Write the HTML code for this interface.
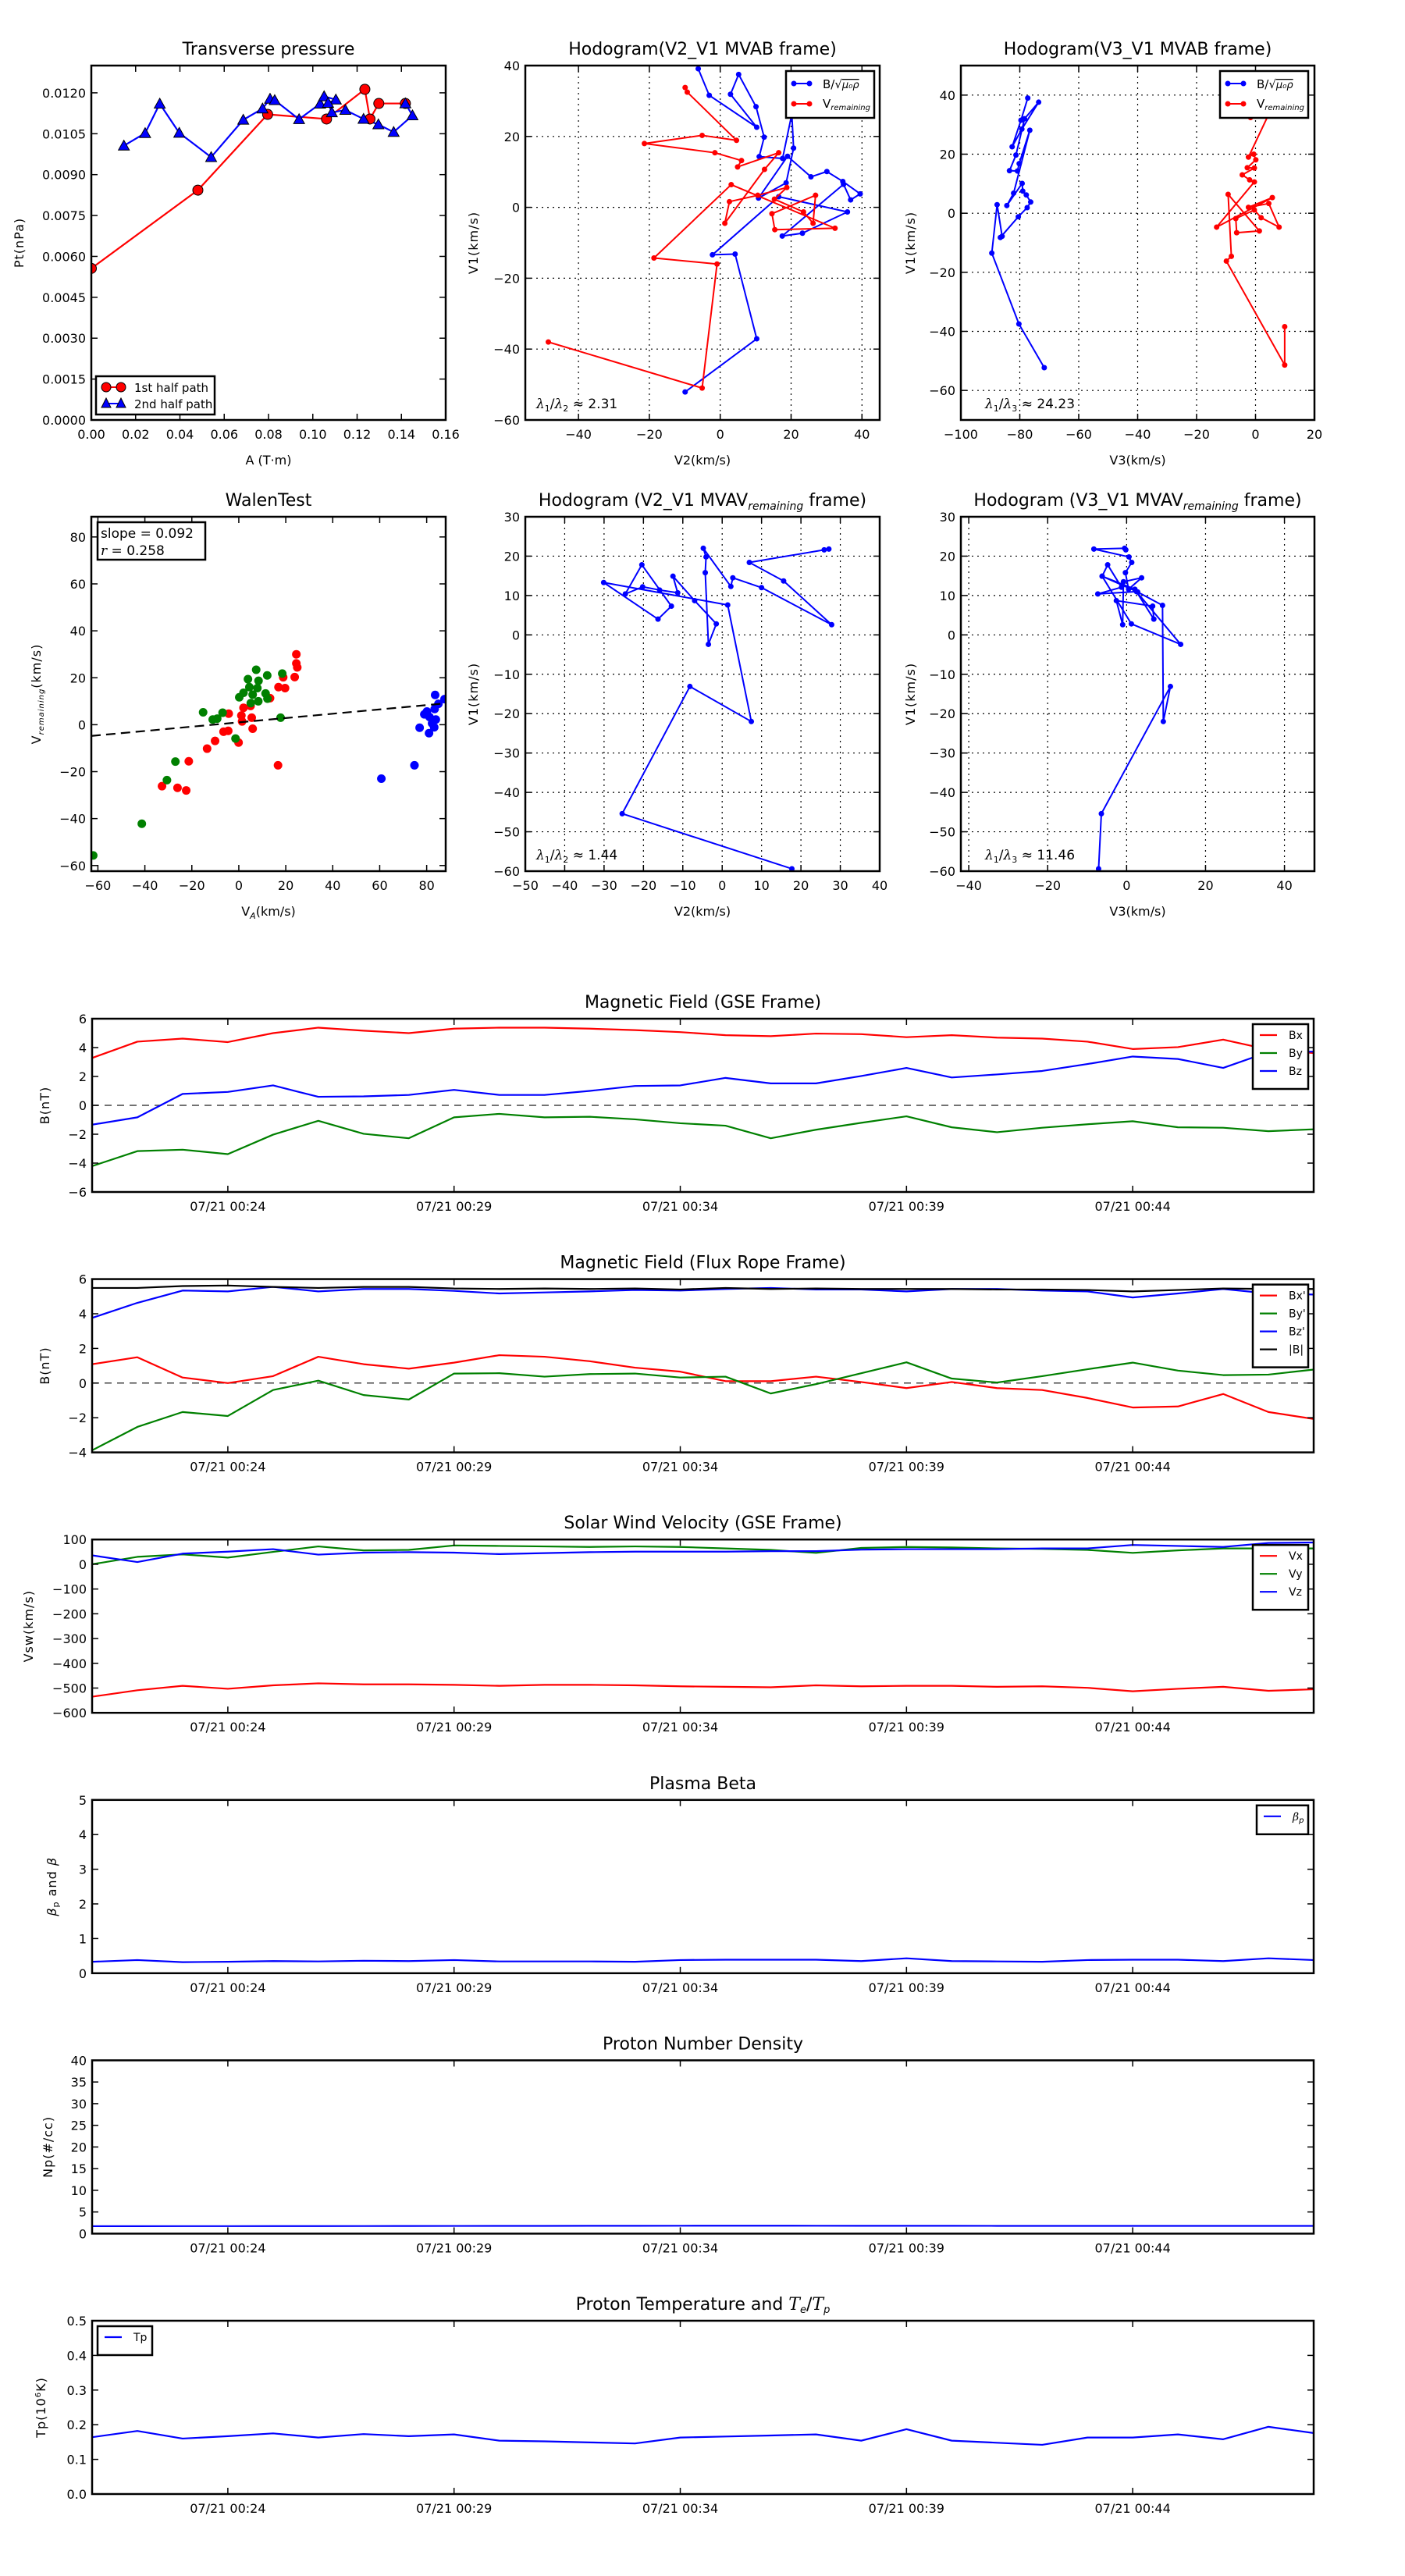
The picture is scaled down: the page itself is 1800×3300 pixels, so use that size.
<!DOCTYPE html>
<html><head><meta charset="utf-8"><title>Flux rope analysis</title>
<style>
html,body{margin:0;padding:0;background:#fff;}
svg{display:block;font-family:"DejaVu Sans","Liberation Sans",sans-serif;}
</style></head>
<body>
<svg id="fig" xmlns="http://www.w3.org/2000/svg" width="1800" height="3300" viewBox="0 0 1800 3300">
<rect x="0" y="0" width="1800" height="3300" fill="#fff"/>
</svg>
<script>
// ---------- Data ----------
const ptRedA=[0,0.0481,0.0796,0.1062,0.1235,0.1258,0.1298,0.1418];
const ptRedP=[0.00556,0.00843,0.01121,0.01104,0.01213,0.01104,0.01161,0.01161];
const ptBlueA=[0.0147,0.0243,0.0309,0.0397,0.0541,0.0686,0.0773,0.0807,0.0828,0.0938,0.1033,0.1051,0.1104,0.1069,0.1086,0.1147,0.1229,0.1296,0.1365,0.145,0.1418];
const ptBlueP=[0.01006,0.01052,0.0116,0.01053,0.00964,0.01101,0.01142,0.01178,0.01173,0.01103,0.0116,0.01187,0.01175,0.01163,0.01128,0.01137,0.01104,0.01084,0.01056,0.01117,0.01161];

const h1BlueX=[-6.2,-3.1,10.3,2.9,5.2,10.1,12.4,11.0,17.6,20.2,20.7,18.6,10.8,19.0,25.6,30.1,34.6,39.5,36.8,34.8,17.5,23.2,35.9,16.5,-2.2,4.2,10.3,-9.9];
const h1BlueY=[39.1,31.6,22.6,31.9,37.5,28.4,19.8,14.3,13.8,26.3,16.7,6.9,2.6,14.4,8.6,10.1,7.3,3.8,2.1,6.5,-8.1,-7.3,-1.3,3.0,-13.4,-13.2,-37.1,-52.1];
const h1RedX=[-48.5,-5.1,-0.9,-18.7,3.1,32.4,15.4,14.6,26.9,26.2,23.5,15.3,18.8,10.6,2.6,1.3,12.5,16.5,4.9,6.0,-1.5,-21.4,-5.1,4.6,-9.3,-9.9];
const h1RedY=[-38.0,-51.0,-16.0,-14.3,6.4,-5.9,-6.3,-1.8,3.4,-4.5,-1.3,2.3,5.6,3.4,1.6,-4.5,10.7,15.4,11.4,13.2,15.4,18.0,20.3,18.9,32.5,33.8];

const h2BlueX=[-77.3,-79.6,-82.6,-79.3,-73.6,-78.4,-81.3,-83.5,-80.8,-80.2,-76.6,-82.1,-84.4,-79.2,-79.0,-77.8,-76.3,-77.5,-80.5,-86.6,-86.0,-87.7,-89.5,-80.3,-71.7];
const h2BlueY=[39.0,31.5,22.5,28.5,37.6,32.0,19.7,14.4,14.3,16.8,28.1,6.8,2.6,10.1,7.5,6.2,3.8,1.9,-1.2,-8.2,-7.8,2.9,-13.5,-37.5,-52.3];
const h2RedX=[-1.7,8.5,-2.4,-0.6,0.1,-2.8,-0.4,-4.5,-2.0,-0.4,-13.2,5.7,-2.4,4.5,8.0,1.9,-0.4,-6.7,-6.4,1.3,-9.3,-8.2,-9.9,9.9,9.9];
const h2RedY=[32.4,42.0,19.0,20.0,18.1,15.4,15.3,13.0,11.3,10.6,-4.7,5.3,2.0,3.3,-4.7,-1.5,1.1,-1.8,-6.6,-6.0,6.4,-14.6,-16.2,-51.4,-38.4];

const walenRedX=[24.5,24.5,24.9,23.8,18.9,16.9,19.7,13.3,-4.3,2.0,5.0,1.1,1.4,5.5,5.9,-6.5,-4.5,-0.1,-10.1,-13.5,-21.3,16.7,-32.7,-26.1,-22.4];
const walenRedY=[30.0,26.1,24.4,20.3,20.2,16.0,15.6,11.3,4.7,7.2,8.0,3.9,1.4,3.0,-1.7,-3.0,-2.6,-7.6,-6.9,-10.2,-15.6,-17.3,-26.2,-26.9,-28.0];
const walenGreenX=[7.4,12.1,18.5,3.9,8.4,4.5,7.9,2.0,0.2,5.9,11.4,12.2,8.3,5.1,-15.2,-6.9,-11.1,-9.2,17.8,-1.4,-27.0,-30.6,-41.3,-62.0];
const walenGreenY=[23.4,21.0,21.8,19.4,18.7,16.0,15.6,13.6,11.7,12.8,13.3,11.1,10.0,9.2,5.3,5.1,2.2,2.6,3.0,-5.9,-15.7,-23.6,-42.2,-55.7];
const walenBlueX=[83.6,87.6,85.0,83.4,79.0,81.2,83.9,82.3,77.0,81.0,83.2,80.1,74.8,60.7];
const walenBlueY=[12.7,10.9,8.9,6.7,4.4,3.3,2.2,0.6,-1.3,-3.6,-1.1,5.6,-17.3,-23.0];
const walenSlope=0.092, walenIntercept=1.0;

const h3X=[17.7,-25.4,-8.2,7.4,1.4,-30.1,-16.3,-12.9,-20.4,-24.6,-20.2,-15.9,-11.3,-12.5,-7.0,-1.5,-3.5,-4.3,-4.1,-4.8,2.2,2.7,10.0,27.8,15.6,6.9,25.9,27.1];
const h3Y=[-59.4,-45.4,-13.1,-22.0,7.6,13.3,4.0,7.3,17.8,10.4,12.2,11.4,10.7,14.9,8.7,2.8,-2.4,15.8,19.8,22.0,12.3,14.5,12.0,2.6,13.7,18.4,21.6,21.8];
const h4X=[-7.1,-6.4,11.1,9.3,9.1,2.8,-6.2,1.2,13.7,2.5,-7.3,-1.3,-4.8,-6.2,2.1,6.9,6.6,-2.6,-1.0,-0.8,3.8,0.5,-0.3,1.3,0.6,-8.3,-0.5,-0.2];
const h4Y=[-59.4,-45.4,-13.1,-22.0,7.5,10.9,14.9,2.8,-2.4,11.0,10.4,12.1,17.8,14.9,11.6,4.0,7.3,8.7,2.6,13.5,14.5,11.6,15.8,18.4,19.8,21.8,22.0,21.6];

const tsTickIdx=[3,8,13,18,23];
const tsTickLabels=["07/21 00:24","07/21 00:29","07/21 00:34","07/21 00:39","07/21 00:44"];
const gseBx=[3.28,4.41,4.62,4.38,5.0,5.38,5.17,5.0,5.31,5.38,5.38,5.31,5.21,5.07,4.86,4.79,4.97,4.93,4.72,4.86,4.69,4.62,4.41,3.9,4.03,4.55,3.86,3.62];
const gseBy=[-4.21,-3.17,-3.07,-3.38,-2.03,-1.07,-1.97,-2.28,-0.83,-0.59,-0.83,-0.79,-0.97,-1.24,-1.41,-2.28,-1.69,-1.21,-0.76,-1.52,-1.86,-1.55,-1.31,-1.10,-1.52,-1.55,-1.79,-1.66];
const gseBz=[-1.34,-0.83,0.79,0.93,1.38,0.59,0.62,0.72,1.07,0.72,0.72,1.0,1.34,1.38,1.9,1.52,1.52,2.03,2.59,1.93,2.14,2.38,2.86,3.38,3.21,2.59,3.69,3.72];
const frBx=[1.09,1.49,0.32,0,0.4,1.52,1.09,0.83,1.18,1.61,1.52,1.26,0.89,0.66,0.11,0.11,0.37,0.06,-0.29,0.06,-0.29,-0.4,-0.86,-1.41,-1.35,-0.63,-1.67,-2.07];
const frBy=[-3.88,-2.53,-1.67,-1.9,-0.4,0.14,-0.69,-0.95,0.55,0.57,0.37,0.52,0.55,0.32,0.37,-0.6,-0.06,0.57,1.2,0.26,0.03,0.4,0.8,1.18,0.72,0.46,0.49,0.78];
const frBz=[3.76,4.63,5.34,5.29,5.55,5.29,5.43,5.43,5.32,5.17,5.23,5.29,5.37,5.34,5.43,5.49,5.4,5.4,5.29,5.43,5.43,5.34,5.29,4.94,5.17,5.43,5.17,5.11];
const frBt=[5.49,5.49,5.6,5.63,5.55,5.49,5.55,5.55,5.46,5.43,5.46,5.43,5.46,5.4,5.49,5.43,5.46,5.43,5.43,5.43,5.4,5.4,5.37,5.29,5.37,5.46,5.43,5.43];
const vx=[-535,-509,-491,-503,-489,-481,-485,-485,-487,-491,-487,-487,-489,-493,-495,-497,-489,-493,-491,-491,-495,-493,-499,-513,-503,-495,-511,-505];
const vy=[0,30,40,27,50,72,56,58,76,74,72,70,72,70,64,58,46,66,70,68,64,62,58,46,56,64,64,64];
const vz=[36,9,43,51,61,39,47,49,47,41,45,49,51,51,51,53,53,59,61,61,61,64,64,78,74,70,86,88];
const betaP=[0.33,0.38,0.32,0.33,0.35,0.34,0.36,0.35,0.38,0.34,0.34,0.34,0.33,0.38,0.39,0.39,0.39,0.35,0.43,0.35,0.34,0.33,0.38,0.39,0.39,0.35,0.43,0.38];
const np=[1.72,1.72,1.73,1.73,1.74,1.74,1.75,1.76,1.77,1.78,1.79,1.80,1.81,1.82,1.83,1.83,1.82,1.81,1.80,1.80,1.79,1.79,1.78,1.78,1.78,1.78,1.78,1.78];
const tp=[0.164,0.182,0.160,0.167,0.175,0.163,0.173,0.167,0.172,0.154,0.152,0.149,0.146,0.163,0.166,0.169,0.172,0.154,0.187,0.154,0.148,0.142,0.163,0.163,0.172,0.158,0.194,0.176];

// ---------- helpers ----------
const NS="http://www.w3.org/2000/svg";
const svg=document.getElementById('fig');
let clipN=0;
function mk(tag,attrs,parent){const e=document.createElementNS(NS,tag);for(const k in attrs)e.setAttribute(k,attrs[k]);(parent||svg).appendChild(e);return e;}
function fmtMinus(s){return String(s).replace('-','\u2212');}
function addText(parent,x,y,str,size,anchor){const t=mk('text',{x:x,y:y,'font-size':size,'text-anchor':anchor||'middle',fill:'#000'},parent);t.textContent=str;return t;}

function makeAxes(name,box,xr,yr){
  const g=mk('g',{});
  
  
  const id='clip'+(clipN++);
  const cp=mk('clipPath',{id:id},g);
  mk('rect',{x:box.x,y:box.y,width:box.w,height:box.h},cp);
  const sx=v=>box.x+(v-xr[0])/(xr[1]-xr[0])*box.w;
  const sy=v=>box.y+box.h-(v-yr[0])/(yr[1]-yr[0])*box.h;
  const plot=mk('g',{'clip-path':'url(#'+id+')'},g);
  return {g,plot,sx,sy,box};
}
function grid(ax,xt,yt){
  const gg=mk('g',{},ax.plot);
  
  
  xt.forEach(v=>mk('line',{x1:ax.sx(v),x2:ax.sx(v),y1:ax.box.y,y2:ax.box.y+ax.box.h,stroke:'#000','stroke-width':1.2,'stroke-dasharray':'2,5'},gg));
  yt.forEach(v=>mk('line',{y1:ax.sy(v),y2:ax.sy(v),x1:ax.box.x,x2:ax.box.x+ax.box.w,stroke:'#000','stroke-width':1.2,'stroke-dasharray':'2,5'},gg));
}
function frameTicks(ax,xt,xl,yt,yl){
  const b=ax.box,L=8;
  const tg=mk('g',{},ax.g);
  
  
  xt.forEach((v,i)=>{const x=ax.sx(v);
    mk('line',{x1:x,x2:x,y1:b.y+b.h,y2:b.y+b.h-L,stroke:'#000','stroke-width':1.5},tg);
    mk('line',{x1:x,x2:x,y1:b.y,y2:b.y+L,stroke:'#000','stroke-width':1.5},tg);
    const t=addText(tg,x,b.y+b.h+24,xl[i],16,'middle');
    
    
  });
  yt.forEach((v,i)=>{const y=ax.sy(v);
    mk('line',{y1:y,y2:y,x1:b.x,x2:b.x+L,stroke:'#000','stroke-width':1.5},tg);
    mk('line',{y1:y,y2:y,x1:b.x+b.w,x2:b.x+b.w-L,stroke:'#000','stroke-width':1.5},tg);
    const t=addText(tg,b.x-7,y+6,yl[i],16,'end');
    
    
  });
  const fr=mk('rect',{x:b.x,y:b.y,width:b.w,height:b.h,fill:'none',stroke:'#000','stroke-width':2.5},ax.g);
  
  
}
function polyline(ax,xs,ys,color,w,name){
  const pts=xs.map((x,i)=>ax.sx(x)+','+ax.sy(ys[i])).join(' ');
  const p=mk('polyline',{points:pts,fill:'none',stroke:color,'stroke-width':w||2.2,'stroke-linejoin':'round'},ax.plot);
  
  
  return p;
}
function dots(ax,xs,ys,color,r,name,edge){
  const gg=mk('g',{},ax.plot);
  
  
  xs.forEach((x,i)=>{mk('circle',{cx:ax.sx(x),cy:ax.sy(ys[i]),r:r,fill:color,stroke:edge||'none','stroke-width':1},gg);});
}
function tris(ax,xs,ys,color,s,name){
  const gg=mk('g',{},ax.plot);
  
  
  xs.forEach((x,i)=>{const cx=ax.sx(x),cy=ax.sy(ys[i]);
    mk('polygon',{points:`${cx},${cy-s} ${cx-s},${cy+s*0.8} ${cx+s},${cy+s*0.8}`,fill:color,stroke:'#000','stroke-width':1},gg);});
}
function range(a,b,s){const r=[];for(let v=a;v<=b+1e-9;v+=s)r.push(Math.round(v*1e6)/1e6);return r;}
function title(ax,html,name){
  const t=mk('text',{x:ax.box.x+ax.box.w/2,y:ax.box.y-14,'font-size':22,'text-anchor':'middle'},ax.g);
  t.innerHTML=html;
  
  
}
function xlabel(ax,html){
  const t=mk('text',{x:ax.box.x+ax.box.w/2,y:ax.box.y+ax.box.h+57,'font-size':16,'text-anchor':'middle'},ax.g);
  t.innerHTML=html;
  
  
}
function ylabel(ax,html,x){
  const cy=ax.box.y+ax.box.h/2;
  const t=mk('text',{x:x,y:cy,'font-size':16,'text-anchor':'middle',transform:`rotate(-90 ${x} ${cy})`,'letter-spacing':'1'},ax.g);
  t.innerHTML=html;
  
  
}
function legendBox(ax,x,y,w,h,name){
  const lg=mk('g',{},ax.g);
  
  
  mk('rect',{x:x,y:y,width:w,height:h,fill:'#fff',stroke:'#000','stroke-width':2.5},lg);
  return lg;
}

// ---------- Row 1 ----------
const rowY1=84, rowY2=662, AH=454;
{
const ax=makeAxes('transverse-pressure-chart',{x:117,y:rowY1,w:454,h:AH},[0,0.16],[0,0.013]);
const xt=range(0,0.16,0.02), yt=range(0,0.012,0.0015);
polyline(ax,ptRedA,ptRedP,'#f00',2.2,'first-half-path-line');
polyline(ax,ptBlueA,ptBlueP,'#00f',2.2,'second-half-path-line');
dots(ax,ptRedA,ptRedP,'#f00',6.5,'first-half-markers','#000');
tris(ax,ptBlueA,ptBlueP,'#00f',7,'second-half-markers');
frameTicks(ax,xt,xt.map(v=>v.toFixed(2)),yt,yt.map(v=>v.toFixed(4)));
title(ax,'Transverse pressure','chart-title');
xlabel(ax,'A (T·m)');
ylabel(ax,'Pt(nPa)',30);
const lg=legendBox(ax,123,482,152,49,'legend');
mk('line',{x1:136,x2:155,y1:496,y2:496,stroke:'#f00','stroke-width':2},lg);
mk('circle',{cx:136,cy:496,r:6,fill:'#f00',stroke:'#000'},lg);mk('circle',{cx:155,cy:496,r:6,fill:'#f00',stroke:'#000'},lg);
addText(lg,172,502,'1st half path',15,'start');
mk('line',{x1:136,x2:155,y1:517,y2:517,stroke:'#00f','stroke-width':2},lg);
mk('polygon',{points:'136,510 130,522 142,522',fill:'#00f',stroke:'#000'},lg);
mk('polygon',{points:'155,510 149,522 161,522',fill:'#00f',stroke:'#000'},lg);
addText(lg,172,523,'2nd half path',15,'start');
}
function hodoLegend(ax,x,y){
  const lg=legendBox(ax,x,y,113,60,'legend');
  mk('line',{x1:x+10,x2:x+30,y1:y+16,y2:y+16,stroke:'#00f','stroke-width':2},lg);
  mk('circle',{cx:x+10,cy:y+16,r:3.5,fill:'#00f'},lg);mk('circle',{cx:x+30,cy:y+16,r:3.5,fill:'#00f'},lg);
  const t1=mk('text',{x:x+47,y:y+22,'font-size':15},lg);t1.innerHTML='B/√<tspan font-style="italic" font-size="13" text-decoration="overline">μ₀ρ</tspan>';
  mk('line',{x1:x+10,x2:x+30,y1:y+42,y2:y+42,stroke:'#f00','stroke-width':2},lg);
  mk('circle',{cx:x+10,cy:y+42,r:3.5,fill:'#f00'},lg);mk('circle',{cx:x+30,cy:y+42,r:3.5,fill:'#f00'},lg);
  const t2=mk('text',{x:x+47,y:y+47,'font-size':15},lg);t2.innerHTML='V<tspan font-size="10" font-style="italic" dy="3">remaining</tspan>';
}
function lam(ax,x,y,a,b,val){
  const t=mk('text',{x:x,y:y,'font-size':17},ax.g);
  t.innerHTML=`<tspan font-style="italic" font-family="DejaVu Serif">λ</tspan><tspan font-size="11" dy="4">${a}</tspan><tspan dy="-4">/</tspan><tspan font-style="italic" font-family="DejaVu Serif">λ</tspan><tspan font-size="11" dy="4">${b}</tspan><tspan dy="-4"> ≈ ${val}</tspan>`;
  
  
}
{
const ax=makeAxes('hodogram-v2-v1-mvab',{x:673,y:rowY1,w:454,h:AH},[-55,45],[-60,40]);
const xt=range(-40,40,20), yt=range(-60,40,20);
grid(ax,xt,yt);
polyline(ax,h1BlueX,h1BlueY,'#00f',2,'b-alfven-line');dots(ax,h1BlueX,h1BlueY,'#00f',3.5,'b-alfven-points');
polyline(ax,h1RedX,h1RedY,'#f00',2,'v-remaining-line');dots(ax,h1RedX,h1RedY,'#f00',3.5,'v-remaining-points');
frameTicks(ax,xt,xt.map(fmtMinus),yt,yt.map(fmtMinus));
title(ax,'Hodogram(V2_V1 MVAB frame)','chart-title');
xlabel(ax,'V2(km/s)');ylabel(ax,'V1(km/s)',612);
hodoLegend(ax,1007,91);lam(ax,687,523,1,2,'2.31');
}
{
const ax=makeAxes('hodogram-v3-v1-mvab',{x:1231,y:rowY1,w:453,h:AH},[-100,20],[-70,50]);
const xt=range(-100,20,20), yt=range(-60,40,20);
grid(ax,xt.slice(1,-1),yt);
polyline(ax,h2BlueX,h2BlueY,'#00f',2,'b-alfven-line');dots(ax,h2BlueX,h2BlueY,'#00f',3.5,'b-alfven-points');
polyline(ax,h2RedX,h2RedY,'#f00',2,'v-remaining-line');dots(ax,h2RedX,h2RedY,'#f00',3.5,'v-remaining-points');
frameTicks(ax,xt,xt.map(fmtMinus),yt,yt.map(fmtMinus));
title(ax,'Hodogram(V3_V1 MVAB frame)','chart-title');
xlabel(ax,'V3(km/s)');ylabel(ax,'V1(km/s)',1172);
hodoLegend(ax,1563,91);lam(ax,1262,523,1,3,'24.23');
}
// ---------- Row 2 ----------
{
const ax=makeAxes('walen-test-chart',{x:117,y:rowY2,w:454,h:AH},[-62.8,88.1],[-62.4,88.6]);
const xt=range(-60,80,20), yt=range(-60,80,20);
dots(ax,walenRedX,walenRedY,'#f00',5.5,'first-group-points');
dots(ax,walenGreenX,walenGreenY,'#008000',5.5,'second-group-points');
dots(ax,walenBlueX,walenBlueY,'#00f',5.5,'third-group-points');
const fx=[-62.8,88.1];
const fl=mk('line',{x1:ax.sx(fx[0]),y1:ax.sy(walenIntercept+walenSlope*fx[0]),x2:ax.sx(fx[1]),y2:ax.sy(walenIntercept+walenSlope*fx[1]),stroke:'#000','stroke-width':2.2,'stroke-dasharray':'12,7'},ax.plot);


frameTicks(ax,xt,xt.map(fmtMinus),yt,yt.map(fmtMinus));
title(ax,'WalenTest','chart-title');
xlabel(ax,'V<tspan font-size="11" font-style="italic" dy="4">A</tspan><tspan dy="-4">(km/s)</tspan>');
ylabel(ax,'V<tspan font-size="10" font-style="italic" dy="4">remaining</tspan><tspan dy="-4">(km/s)</tspan>',52);
const lg=legendBox(ax,125,669,138,48,'fit-stats-box');
addText(lg,129,689,'slope = 0.092',17,'start');
const rt=mk('text',{x:129,y:711,'font-size':17},lg);rt.innerHTML='<tspan font-style="italic" font-family="DejaVu Serif">r</tspan> = 0.258';
}
{
const ax=makeAxes('hodogram-v2-v1-mvav',{x:673,y:rowY2,w:454,h:AH},[-50,40],[-60,30]);
const xt=range(-50,40,10), yt=range(-60,30,10);
grid(ax,xt.slice(1,-1),yt.slice(1,-1));
polyline(ax,h3X,h3Y,'#00f',2,'hodogram-line');dots(ax,h3X,h3Y,'#00f',3.5,'hodogram-points');
frameTicks(ax,xt,xt.map(fmtMinus),yt,yt.map(fmtMinus));
title(ax,'Hodogram (V2_V1 MVAV<tspan font-size="14" font-style="italic" dy="5">remaining</tspan><tspan dy="-5"> frame)</tspan>','chart-title');
xlabel(ax,'V2(km/s)');ylabel(ax,'V1(km/s)',612);
lam(ax,687,1101,1,2,'1.44');
}
{
const ax=makeAxes('hodogram-v3-v1-mvav',{x:1231,y:rowY2,w:453,h:AH},[-42,47.6],[-60,30]);
const xt=range(-40,40,20), yt=range(-60,30,10);
grid(ax,xt,yt.slice(1,-1));
polyline(ax,h4X,h4Y,'#00f',2,'hodogram-line');dots(ax,h4X,h4Y,'#00f',3.5,'hodogram-points');
frameTicks(ax,xt,xt.map(fmtMinus),yt,yt.map(fmtMinus));
title(ax,'Hodogram (V3_V1 MVAV<tspan font-size="14" font-style="italic" dy="5">remaining</tspan><tspan dy="-5"> frame)</tspan>','chart-title');
xlabel(ax,'V3(km/s)');ylabel(ax,'V1(km/s)',1172);
lam(ax,1262,1101,1,3,'11.46');
}
// ---------- time series ----------
const idx=gseBx.map((v,i)=>i);
const TSX=118, TSW=1565, TSH=222;
function tsPanel(name,top,yr,yt,yl,series,ttl,ylab,ylx,leg,zero){
  const ax=makeAxes(name,{x:TSX,y:top,w:TSW,h:TSH},[0,27],yr);
  if(zero){const z=mk('line',{x1:TSX,x2:TSX+TSW,y1:ax.sy(0),y2:ax.sy(0),stroke:'#444','stroke-width':1.5,'stroke-dasharray':'9,7'},ax.plot);
    
    }
  series.forEach(s=>polyline(ax,idx,s.v,s.c,2.2,s.n));
  frameTicks(ax,tsTickIdx,tsTickLabels,yt,yl);
  title(ax,ttl,'chart-title');
  ylabel(ax,ylab,ylx);
  if(leg){
    const lg=legendBox(ax,leg.x,leg.y,leg.w,14+series.length*23,'legend');
    series.forEach((s,i)=>{const yy=leg.y+14+i*23;
      mk('line',{x1:leg.x+9,x2:leg.x+31,y1:yy,y2:yy,stroke:s.c,'stroke-width':2.2},lg);
      const t=mk('text',{x:leg.x+46,y:yy+5,'font-size':14},lg);t.innerHTML=s.l;});
  }
  return ax;
}
const P=333.6, T0=1305;
tsPanel('magnetic-field-gse-chart',T0,[-6,6],range(-6,6,2),range(-6,6,2).map(fmtMinus),
  [{v:gseBx,c:'#f00',n:'bx-line',l:'Bx'},{v:gseBy,c:'#008000',n:'by-line',l:'By'},{v:gseBz,c:'#00f',n:'bz-line',l:'Bz'}],
  'Magnetic Field (GSE Frame)','B(nT)',63,{x:1605,y:T0+7,w:71},true);
tsPanel('magnetic-field-flux-rope-chart',T0+P,[-4,6],range(-4,6,2),range(-4,6,2).map(fmtMinus),
  [{v:frBx,c:'#f00',n:'bx-prime-line',l:"Bx'"},{v:frBy,c:'#008000',n:'by-prime-line',l:"By'"},{v:frBz,c:'#00f',n:'bz-prime-line',l:"Bz'"},{v:frBt,c:'#000',n:'b-total-line',l:'|B|'}],
  'Magnetic Field (Flux Rope Frame)','B(nT)',63,{x:1605,y:T0+P+7,w:71},true);
tsPanel('solar-wind-velocity-chart',T0+2*P,[-600,100],range(-600,100,100),range(-600,100,100).map(fmtMinus),
  [{v:vx,c:'#f00',n:'vx-line',l:'Vx'},{v:vy,c:'#008000',n:'vy-line',l:'Vy'},{v:vz,c:'#00f',n:'vz-line',l:'Vz'}],
  'Solar Wind Velocity (GSE Frame)','Vsw(km/s)',42,{x:1605,y:T0+2*P+7,w:71},false);
tsPanel('plasma-beta-chart',T0+3*P,[0,5],range(0,5,1),range(0,5,1).map(String),
  [{v:betaP,c:'#00f',n:'beta-p-line',l:'<tspan font-style="italic" font-family="DejaVu Serif">β</tspan><tspan font-size="10" font-style="italic" dy="3">p</tspan>'}],
  'Plasma Beta','<tspan font-style="italic">β</tspan><tspan font-size="11" dy="3">p</tspan><tspan dy="-3"> and </tspan><tspan font-style="italic">β</tspan>',72,{x:1610,y:T0+3*P+7,w:66},false);
tsPanel('proton-density-chart',T0+4*P,[0,40],range(0,40,5),range(0,40,5).map(String),
  [{v:np,c:'#00f',n:'np-line',l:'Np'}],
  'Proton Number Density','Np(#/cc)',67,null,false);
tsPanel('proton-temperature-chart',T0+5*P,[0,0.5],range(0,0.5,0.1),range(0,0.5,0.1).map(v=>v.toFixed(1)),
  [{v:tp,c:'#00f',n:'tp-line',l:'Tp'}],
  'Proton Temperature and <tspan font-style="italic" font-family="DejaVu Serif">T</tspan><tspan font-size="13" font-style="italic" dy="4">e</tspan><tspan dy="-4">/</tspan><tspan font-style="italic" font-family="DejaVu Serif">T</tspan><tspan font-size="13" font-style="italic" dy="4">p</tspan>',
  'Tp(10<tspan font-size="10" dy="-6">6</tspan><tspan dy="6">K)</tspan>',58,{x:125,y:T0+5*P+7,w:70},false);
</script>
</body></html>
